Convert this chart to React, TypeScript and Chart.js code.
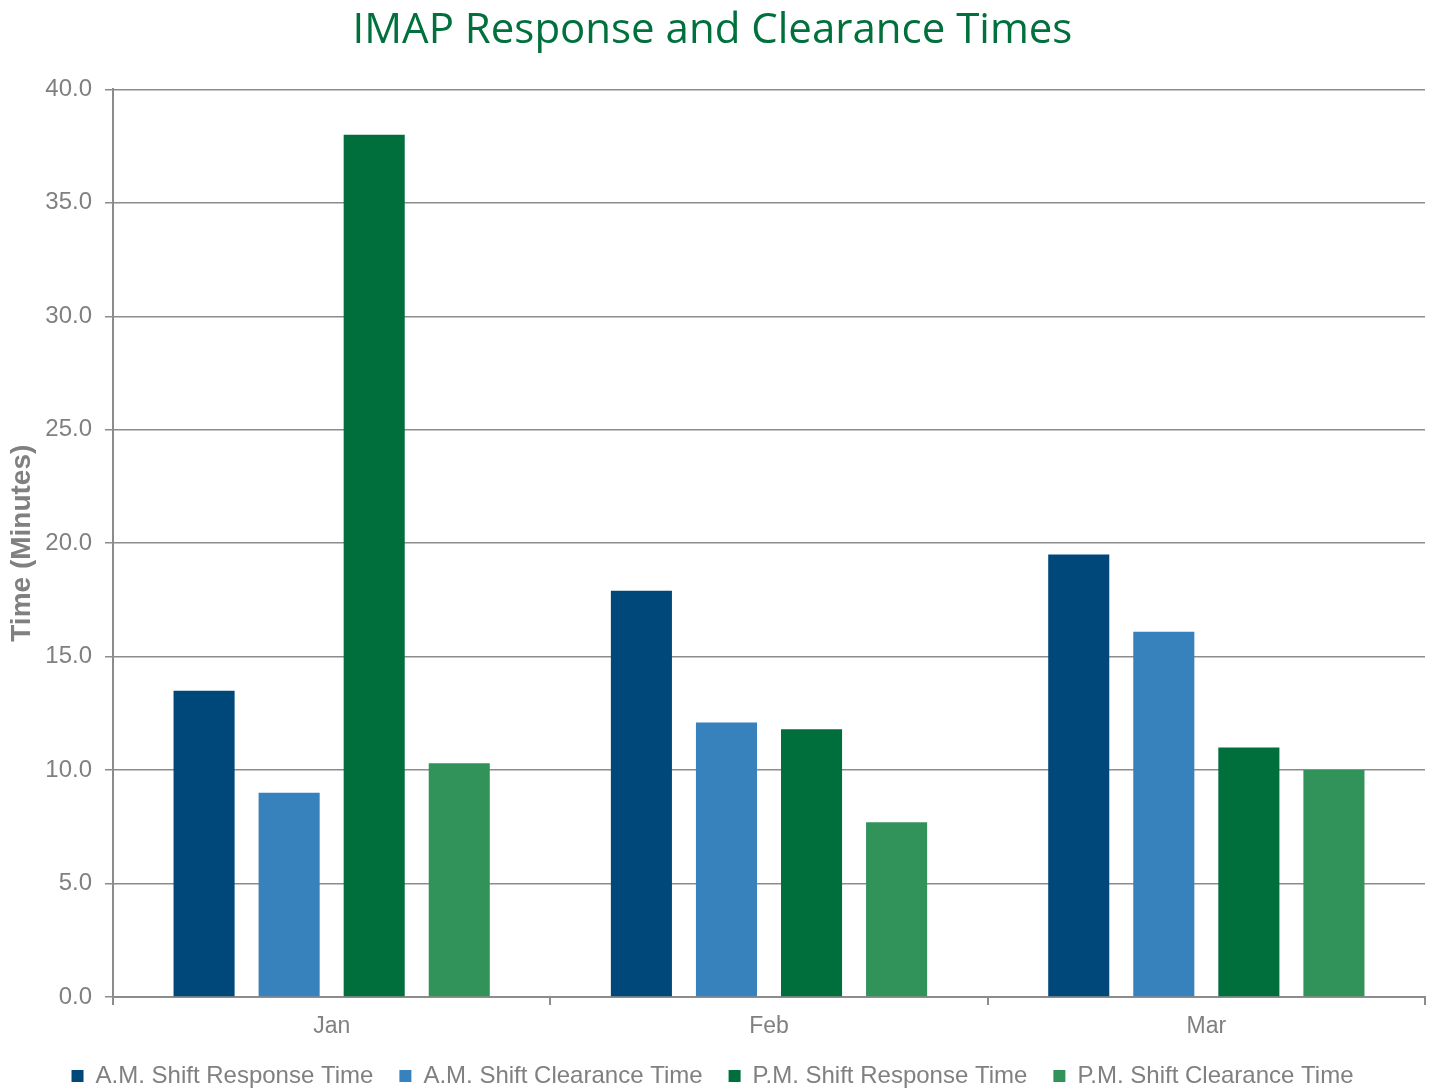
import React, { useEffect, useRef } from "react";
import { Chart, registerables } from "chart.js";

Chart.register(...registerables);

const categories = ["Jan", "Feb", "Mar"];
const seriesNames = [
  "A.M. Shift Response Time",
  "A.M. Shift Clearance Time",
  "P.M. Shift Response Time",
  "P.M. Shift Clearance Time",
];
const amResponse = [13.5, 17.9, 19.5];
const amClearance = [9.0, 12.1, 16.1];
const pmResponse = [38.0, 11.8, 11.0];
const pmClearance = [10.3, 7.7, 10.0];
const seriesColors = ["#00487A", "#3781BC", "#006F3B", "#32935A"];
const yTicks = [0, 5, 10, 15, 20, 25, 30, 35, 40];

const legendFit = {
  id: "legendFit",
  afterInit(chart: any) {
    const lg = chart.legend;
    if (!lg) return;
    const orig = lg.fit;
    lg.fit = function () {
      orig.call(this);
      this.height = 50;
    };
  },
};

export default function App() {
  const ref = useRef<HTMLCanvasElement | null>(null);
  useEffect(() => {
    if (!ref.current) return;
    const values = [amResponse, amClearance, pmResponse, pmClearance];
    const chart = new Chart(ref.current, {
      type: "bar",
      data: {
        labels: categories,
        datasets: seriesNames.map((name, i) => ({
          label: name,
          data: values[i],
          backgroundColor: seriesColors[i],
          borderWidth: 0,
          categoryPercentage: 0.778,
          barPercentage: 0.718,
        })),
      },
      plugins: [legendFit],
      options: {
        animation: false,
        responsive: false,
        maintainAspectRatio: false,
        layout: { padding: { left: 0, right: 4, top: 0, bottom: 0 } },
        plugins: {
          title: {
            display: true,
            text: "IMAP Response and Clearance Times",
            color: "#00703C",
            font: { family: "'Open Sans'", size: 42, weight: "normal" },
            padding: { top: 6, bottom: 33 },
          },
          legend: {
            position: "bottom",
            labels: {
              color: "#808080",
              font: { family: "'Liberation Sans', Arial", size: 24 },
              boxWidth: 12,
              boxHeight: 12,
              padding: 26,
            },
          },
          tooltip: { enabled: false },
        },
        scales: {
          x: {
            afterFit: (scale: any) => {
              scale.height = 41;
            },
            grid: {
              display: true,
              drawOnChartArea: false,
              drawTicks: true,
              tickLength: 8,
              color: "#8C8C8C",
              lineWidth: 2,
              offset: true,
            },
            border: { display: true, color: "#8C8C8C", width: 2 },
            ticks: {
              color: "#808080",
              font: { family: "'Liberation Sans', Arial", size: 23 },
              padding: 8,
            },
          },
          y: {
            min: 0,
            max: 40,
            afterBuildTicks: (scale: any) => {
              scale.ticks = yTicks.map((v) => ({ value: v }));
            },
            afterFit: (scale: any) => {
              scale.width = 113;
            },
            grid: {
              color: "#8C8C8C",
              lineWidth: 1.5,
              drawTicks: true,
              tickLength: 8,
            },
            border: { display: true, color: "#8C8C8C", width: 2 },
            ticks: {
              color: "#808080",
              font: { family: "'Liberation Sans', Arial", size: 24 },
              padding: 13,
              callback: (v: any) => Number(v).toFixed(1),
            },
            title: {
              display: true,
              text: "Time (Minutes)",
              color: "#808080",
              font: { family: "'Liberation Sans', Arial", size: 28, weight: "bold" },
              padding: { top: 5, bottom: 0 },
            },
          },
        },
      },
    });
    return () => chart.destroy();
  }, []);
  return (
    <div style={{ position: "absolute", left: 0, top: 0, width: 1429, height: 1088 }}>
      <canvas ref={ref} width={1429} height={1088} style={{ width: 1429, height: 1088 }} />
    </div>
  );
}
